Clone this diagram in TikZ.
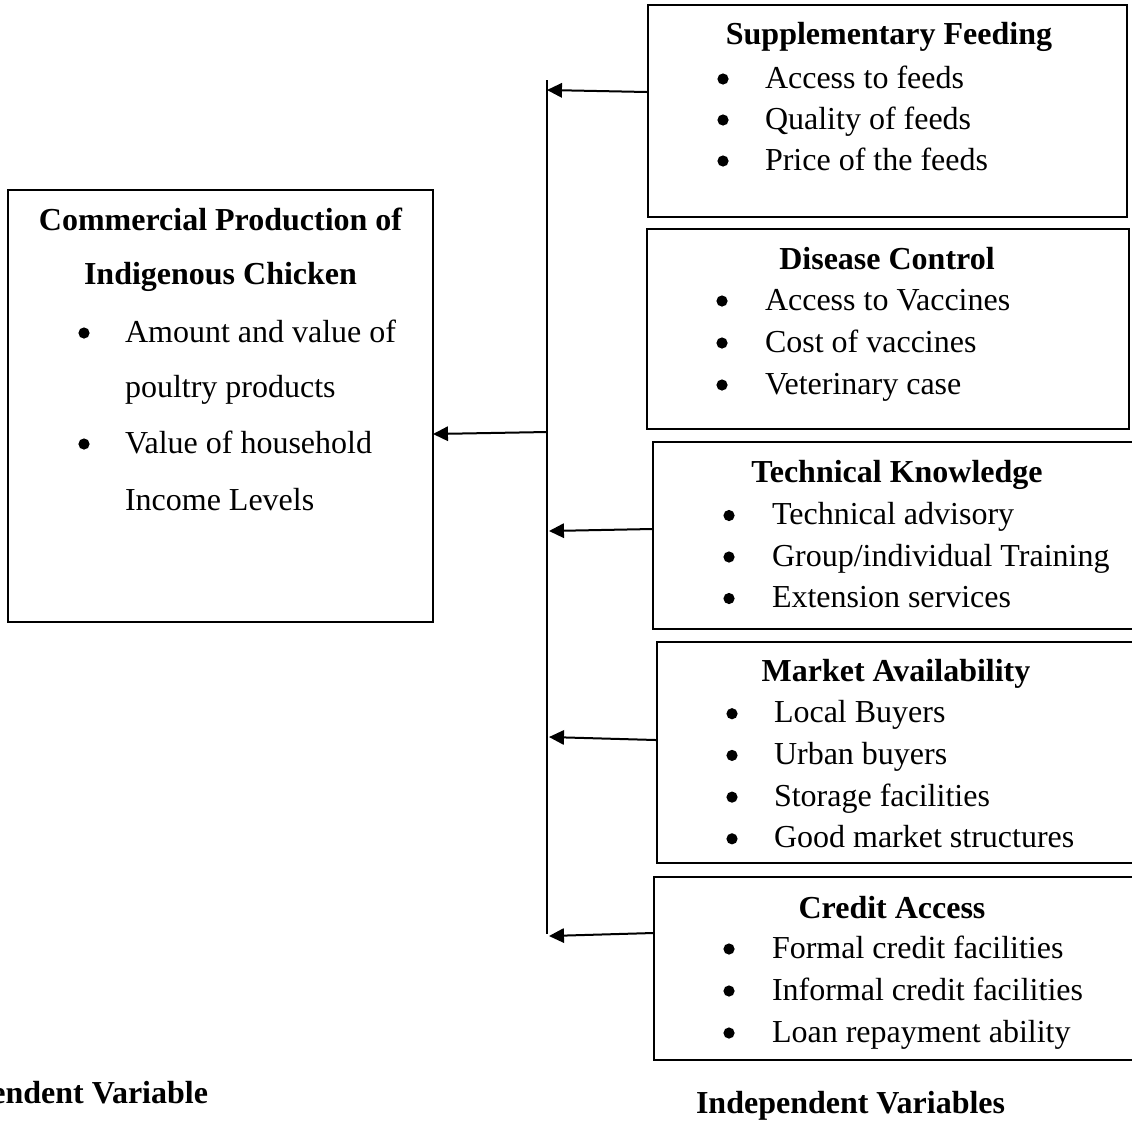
\documentclass[tikz,border=0pt]{standalone}
\usepackage{fontspec}
\setmainfont{Liberation Serif}
\usetikzlibrary{arrows.meta}

\begin{document}
\begin{tikzpicture}[x=0.375pt, y=-0.375pt, line width=0.75pt,
    font=\fontsize{12pt}{14pt}\selectfont,
    >={Triangle[length=5.6pt, width=5.4pt]},
    box/.style={draw, rectangle, inner sep=0pt},
    head/.style={anchor=base, inner sep=0pt, font=\fontsize{12pt}{14pt}\selectfont\bfseries},
    item/.style={anchor=base west, inner sep=0pt},
    dot/.style={circle, fill, inner sep=0pt, minimum size=4.2pt}]
    \useasboundingbox (0,0) rectangle (1132,1122);

    % 1. 因变量方框
    \node[box, minimum width=159.4pt, minimum height=162pt] (dep) at (220.5,406) {};
    \node[head] (dephead1) at (220.5,230) {Commercial Production of};
    \node[head] (dephead2) at (220.5,284) {Indigenous Chicken};
    \node[dot] (depdot1) at (84,333) {};
    \node[item] (depitem1) at (124,342) {Amount and value of};
    \node[item] (depitem2) at (124,397) {poultry products};
    \node[dot] (depdot2) at (84,444) {};
    \node[item] (depitem3) at (124,453) {Value of household};
    \node[item] (depitem4) at (124,510) {Income Levels};

    % 2. 自变量方框
    \node[box, minimum width=179.6pt, minimum height=79.5pt] (feed) at (887.5,111) {};
    \node[head] (feedhead) at (889,44) {Supplementary Feeding};
    \foreach \t [count=\i] in {Access to feeds, Quality of feeds, Price of the feeds} {
        \node[dot] (feeddot\i) at (723,{38+41*\i}) {};
        \node[item] (feeditem\i) at (764,{47+41*\i}) {\t};
    }

    \node[box, minimum width=180.75pt, minimum height=75pt] (disease) at (888,329) {};
    \node[head] (diseasehead) at (887,269) {Disease Control};
    \foreach \t [count=\i] in {Access to Vaccines, Cost of vaccines, Veterinary case} {
        \node[dot] (diseasedot\i) at (722,{259+42*\i}) {};
        \node[item] (diseaseitem\i) at (764,{268+42*\i}) {\t};
    }

    \node[box, minimum width=180.4pt, minimum height=70.1pt] (tech) at (893.5,535.5) {};
    \node[head] (techhead) at (897,482) {Technical Knowledge};
    \foreach \t [count=\i] in {Technical advisory, Group/individual Training, Extension services} {
        \node[dot] (techdot\i) at (729,{474+41.5*\i}) {};
        \node[item] (techitem\i) at (771,{483+41.5*\i}) {\t};
    }

    \node[box, minimum width=178.9pt, minimum height=82.9pt] (market) at (895.5,752.5) {};
    \node[head] (markethead) at (896,681) {Market Availability};
    \foreach \t [count=\i] in {Local Buyers, Urban buyers, Storage facilities, Good market structures} {
        \node[dot] (marketdot\i) at (732,{672+41.7*\i}) {};
        \node[item] (marketitem\i) at (773,{681+41.7*\i}) {\t};
    }

    \node[box, minimum width=180pt, minimum height=68.6pt] (credit) at (894,968.5) {};
    \node[head] (credithead) at (892,918) {Credit Access};
    \foreach \t [count=\i] in {Formal credit facilities, Informal credit facilities, Loan repayment ability} {
        \node[dot] (creditdot\i) at (729,{907+42*\i}) {};
        \node[item] (credititem\i) at (771,{916+42*\i}) {\t};
    }

    % 3. 竖线与箭头
    \coordinate (bustop) at (547,80);
    \coordinate (busbot) at (547,934);
    \draw (bustop) -- (busbot);
    \coordinate (tip0) at (433,434);
    \coordinate (tip1) at (547,90);
    \coordinate (tip3) at (549,531);
    \coordinate (tip4) at (549,737);
    \coordinate (tip5) at (549,936);
    \draw[->] (bustop |- 0,432) -- (tip0);
    \draw[->] (feed.west |- 0,92) -- (tip1);
    \draw[->] (tech.west |- 0,529) -- (tip3);
    \draw[->] (market.west |- 0,740) -- (tip4);
    \draw[->] (credit.west |- 0,933) -- (tip5);

    % 4. 底部标签
    \node[head, anchor=base east] (deplabel) at (209,1103) {Dependent Variable};
    \node[head, anchor=base west] (indlabel) at (695,1113) {Independent Variables};
\end{tikzpicture}
\end{document}
